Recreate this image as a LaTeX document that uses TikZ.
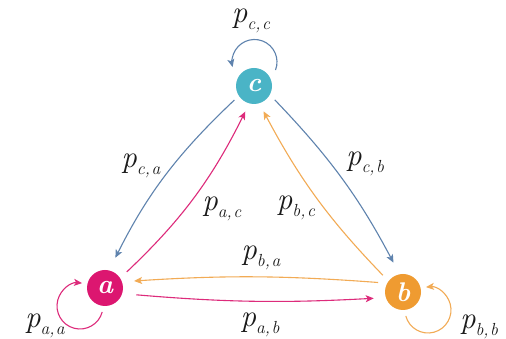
\documentclass[tikz,border=0pt]{standalone}
\usetikzlibrary{arrows.meta}
\definecolor{nodeC}{HTML}{4AB4C6}
\definecolor{nodeA}{HTML}{DC1670}
\definecolor{nodeB}{HTML}{EF9B31}
\definecolor{edgeBlue}{HTML}{5F83AE}
\definecolor{edgeMag}{HTML}{DD2B7B}
\definecolor{edgeOr}{HTML}{F2AB55}
\definecolor{labelcol}{HTML}{1A1A1A}
\newcommand\ptrans[2]{\textit{p}\raisebox{-7pt}{\fontsize{17.5}{20}\selectfont\textit{#1,\kern1.5pt#2}}}
\begin{document}
\begin{tikzpicture}[x=1pt,y=1pt,
  state/.style={circle, minimum size=36pt, inner sep=0pt, text=white,
    font=\fontsize{27}{30}\selectfont\bfseries\itshape},
  plab/.style={inner sep=0pt, text=labelcol, font=\fontsize{31}{36}\selectfont},
  tr/.style={line width=1.1pt, -{Stealth[length=8pt,width=7pt,inset=2pt]}},
  blueedge/.style={tr, draw=edgeBlue},
  magedge/.style={tr, draw=edgeMag},
  oredge/.style={tr, draw=edgeOr},
  ]
\useasboundingbox (0,0) rectangle (506,339);
\fill[white] (0,0) rectangle (506,339);

\node[state, fill=nodeC] (c) at (254,253) {c};
\node[state, fill=nodeA] (a) at (105,51) {a};
\node[state, fill=nodeB] (b) at (403,47) {b};

% edges between states
\draw[blueedge, shorten <=6pt, shorten >=14pt] (c.213) to[bend right=10] (a.77);
\draw[magedge, shorten <=9pt, shorten >=9pt] (a.33) to[bend right=10] (c.255);
\draw[blueedge, shorten <=7pt, shorten >=13pt] (c.331) to[bend left=8] (b.101);
\draw[oredge, shorten <=8pt, shorten >=9pt] (b.143) to[bend left=8] (c.287);
\draw[oredge, shorten <=9pt, shorten >=12pt] (b.151) to[bend right=4] (a.20);
\draw[magedge, shorten <=14pt, shorten >=12pt] (a.342) to[bend right=4] (b.198);

% self loops
\draw[blueedge] ([shift={(0.5,24)}]c.center) ++(-21:22.5) arc[start angle=-21, delta angle=214, radius=22.5];
\draw[magedge] ([shift={(-25,-18)}]a.center) ++(-15:23) arc[start angle=-15, delta angle=-260, radius=23];
\draw[oredge] ([shift={(25,-18)}]b.center) ++(195:23) arc[start angle=195, delta angle=260, radius=23];

% labels
\node[plab] (lcc) at (251,318) {\ptrans{c}{c}};
\node[plab] (lca) at (141,173) {\ptrans{c}{a}};
\node[plab] (lac) at (222,130) {\ptrans{a}{c}};
\node[plab] (lbc) at (296,131) {\ptrans{b}{c}};
\node[plab] (lcb) at (365,175) {\ptrans{c}{b}};
\node[plab] (lba) at (261,81) {\ptrans{b}{a}};
\node[plab] (lab) at (260,14) {\ptrans{a}{b}};
\node[plab] (laa) at (45,13) {\ptrans{a}{a}};
\node[plab] (lbb) at (479,12) {\ptrans{b}{b}};
\end{tikzpicture}
\end{document}
